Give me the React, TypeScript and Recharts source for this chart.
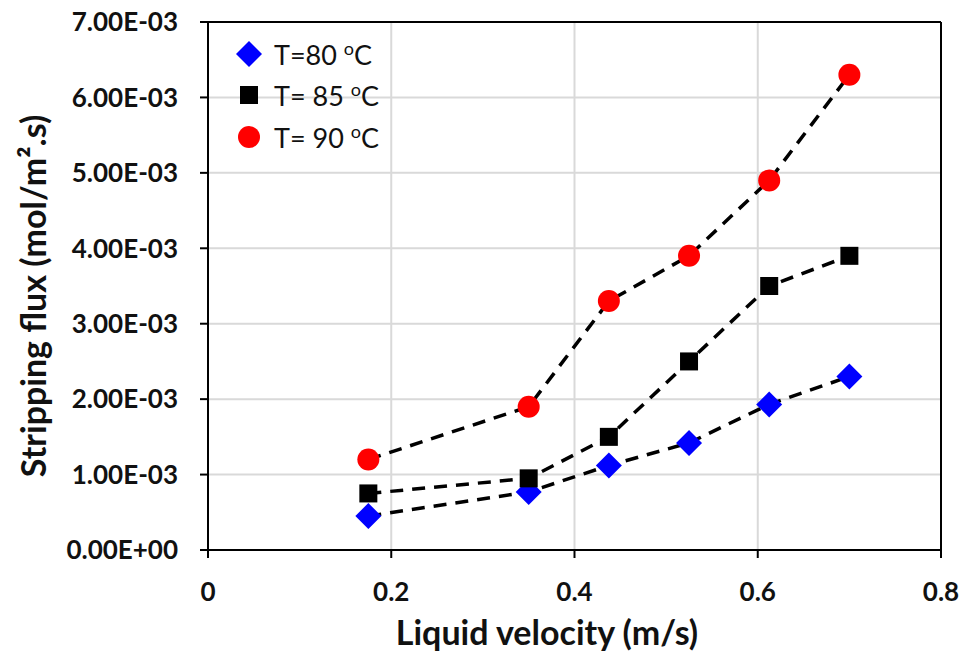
import React from "react";
import {
  ScatterChart,
  Scatter,
  XAxis,
  YAxis,
  CartesianGrid,
  ReferenceLine,
  Legend,
} from "recharts";

const velocity = [0.175, 0.35, 0.4375, 0.525, 0.6125, 0.7];
const flux80 = [0.00045, 0.00077, 0.00112, 0.00142, 0.00193, 0.0023];
const flux85 = [0.00075, 0.00095, 0.0015, 0.0025, 0.0035, 0.0039];
const flux90 = [0.0012, 0.0019, 0.0033, 0.0039, 0.0049, 0.0063];

const xTicks = [0, 0.2, 0.4, 0.6, 0.8];
const yTicks = [0, 0.001, 0.002, 0.003, 0.004, 0.005, 0.006, 0.007];
const yTickLabels = [
  "0.00E+00",
  "1.00E-03",
  "2.00E-03",
  "3.00E-03",
  "4.00E-03",
  "5.00E-03",
  "6.00E-03",
  "7.00E-03",
];

const seriesNames = ["T=80 ", "T= 85 ", "T= 90 "];
const seriesColors = ["#0000ff", "#000000", "#ff0000"];
const seriesShapes = ["diamond", "square", "circle"];

const toPoints = (ys: number[]) => velocity.map((x, i) => ({ x, y: ys[i] }));
const allSeries = [flux80, flux85, flux90].map((ys, i) => ({
  name: seriesNames[i],
  color: seriesColors[i],
  shape: seriesShapes[i],
  data: toPoints(ys),
}));

const FONT = "Lato, 'Open Sans', sans-serif";
const INK = "#111";

function Marker({ shape, color, cx, cy }: any) {
  if (shape === "diamond") {
    const r = 13;
    return (
      <polygon
        points={`${cx},${cy - r} ${cx + r},${cy} ${cx},${cy + r} ${cx - r},${cy}`}
        fill={color}
      />
    );
  }
  if (shape === "square") {
    const h = 9;
    return <rect x={cx - h} y={cy - h} width={2 * h} height={2 * h} fill={color} />;
  }
  return <circle cx={cx} cy={cy} r={11} fill={color} />;
}

function LegendBox() {
  return (
    <div style={{ fontFamily: FONT, fontSize: 27, color: INK }}>
      {allSeries.map((s) => (
        <div
          key={s.name}
          style={{ display: "flex", alignItems: "center", height: 41.5 }}
        >
          <svg width={30} height={30} style={{ marginRight: 10 }}>
            <Marker shape={s.shape} color={s.color} cx={15} cy={15} />
          </svg>
          <span>
            {s.name}
            <sup style={{ fontSize: 18 }}>o</sup>C
          </span>
        </div>
      ))}
    </div>
  );
}

export default function App() {
  return (
    <div style={{ position: "absolute", left: 0, top: 0, background: "#fff" }}>
      <ScatterChart
        width={961}
        height={654}
        margin={{ top: 22, right: 20, bottom: 0, left: 0 }}
      >
        <CartesianGrid stroke="#d9d9d9" strokeWidth={2} />
        <XAxis
          type="number"
          dataKey="x"
          domain={[0, 0.8]}
          ticks={xTicks}
          height={104}
          tickSize={8}
          tickMargin={25}
          axisLine={{ stroke: "#000", strokeWidth: 2 }}
          tickLine={{ stroke: "#000", strokeWidth: 2 }}
          tick={{ fill: INK, fontFamily: FONT, fontWeight: 700, fontSize: 26 }}
          tickFormatter={(v: number) => (v === 0 ? "0" : String(v))}
          label={{
            content: () => (
              <text
                x={547}
                y={645}
                textAnchor="middle"
                fill={INK}
                fontFamily={FONT}
                fontWeight={700}
                fontSize={34}
              >
                Liquid velocity (m/s)
              </text>
            ),
          }}
        />
        <YAxis
          type="number"
          dataKey="y"
          domain={[0, 0.007]}
          ticks={yTicks}
          width={208}
          tickSize={8}
          tickMargin={22}
          axisLine={{ stroke: "#000", strokeWidth: 2 }}
          tickLine={{ stroke: "#000", strokeWidth: 2 }}
          tick={{ fill: INK, fontFamily: FONT, fontWeight: 700, fontSize: 26 }}
          tickFormatter={(v: number) => yTickLabels[yTicks.indexOf(v)] ?? ""}
          label={{
            content: () => (
              <text
                x={32}
                y={296}
                transform="rotate(-90, 32, 296)"
                textAnchor="middle"
                dominantBaseline="central"
                fill={INK}
                fontFamily={FONT}
                fontWeight={700}
                fontSize={34}
              >
                Stripping flux (mol/m².s)
              </text>
            ),
          }}
        />
        <ReferenceLine y={0.007} stroke="#000" strokeWidth={2} />
        <ReferenceLine x={0.8} stroke="#000" strokeWidth={2} />
        {allSeries.map((s) => (
          <Scatter
            key={s.name}
            name={s.name}
            data={s.data}
            isAnimationActive={false}
            line={{ stroke: "#000", strokeWidth: 3.5, strokeDasharray: "13 9" }}
            shape={(p: any) => (
              <Marker shape={s.shape} color={s.color} cx={p.cx} cy={p.cy} />
            )}
          />
        ))}
        <Legend
          layout="vertical"
          align="center"
          verticalAlign="middle"
          wrapperStyle={{ left: 234, top: 33, width: "auto" }}
          content={() => <LegendBox />}
        />
      </ScatterChart>
    </div>
  );
}
